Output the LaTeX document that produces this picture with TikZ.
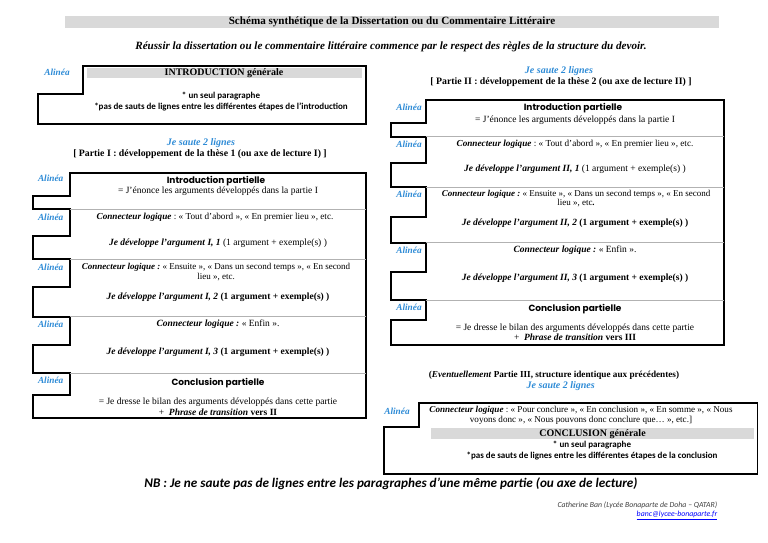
\documentclass[tikz,border=0pt]{standalone}
\usepackage{fontspec}
\setmainfont{Liberation Serif}
\newfontfamily\calfont{Carlito}
\newfontfamily\comicfont{Poppins}
\definecolor{ablue}{HTML}{2E8BD6}
\definecolor{bargray}{HTML}{D9D9D9}
\frenchspacing
\tikzset{
  txt/.style={inner sep=0pt, align=center, font=\fontsize{9.5}{10.5}\selectfont},
  txtsm/.style={inner sep=0pt, align=center, font=\fontsize{9}{9.6}\selectfont},
  alinea/.style={inner sep=0pt, text=ablue, font=\fontsize{9.3}{10}\selectfont\bfseries\itshape},
  saute/.style={inner sep=0pt, text=ablue, font=\fontsize{10}{11}\selectfont\bfseries\itshape},
  comic/.style={inner sep=0pt, font=\fontsize{9}{11}\selectfont\comicfont\bfseries},
  calib/.style={inner sep=0pt, align=center, font=\fontsize{9}{11}\selectfont\calfont\bfseries},
  boxline/.style={line width=1.8pt, line join=miter},
  divline/.style={draw=gray!60, line width=0.6pt},
}
\newcommand{\cl}{\textbf{\textit{Connecteur logique}}}
\begin{document}
\begin{tikzpicture}[x=1pt,y=-1pt]
\useasboundingbox (0,0) rectangle (768,543);
% title
\fill[bargray] (65,15.7) rectangle (718.5,27.7);
\node[txt, font=\fontsize{11.1}{12}\selectfont\bfseries] (title) at (392,21.7) {Schéma synthétique de la Dissertation ou du Commentaire Littéraire};
\node[txt, font=\fontsize{11.1}{12}\selectfont\bfseries\itshape] (sub) at (391,47.3) {Réussir la dissertation ou le commentaire littéraire commence par le respect des règles de la structure du devoir.};

% introduction generale
\draw[boxline] (82.7,65.7) -- (365.7,65.7) -- (365.7,124) -- (38.3,124) -- (38.3,94.3) -- (82.7,94.3) -- cycle;
\fill[bargray] (87,67.7) rectangle (362,77.7);
\node[alinea] (a0) at (57,72) {Alinéa};
\node[txt, font=\fontsize{10}{11}\selectfont\bfseries] (intro) at (224,73) {INTRODUCTION générale};
\node[calib] (introtxt) at (221,101.2) {* un seul paragraphe\\*pas de sauts de lignes entre les différentes étapes de l’introduction};

% left heading
\node[saute] (s1) at (201,143) {Je saute 2 lignes};
\node[txt, font=\fontsize{9.8}{11}\selectfont\bfseries] (p1) at (200,154) {[ Partie I : développement de la thèse 1 (ou axe de lecture I) ]};

% left box
\draw[boxline] (70,172.7) -- (365.7,172.7) -- (365.7,418.3) -- (33.3,418.3) -- (33.3,395) -- (70,395) -- (70,373.3)
  -- (33.3,373.3) -- (33.3,345) -- (70,345) -- (70,316.7)
  -- (33.3,316.7) -- (33.3,287) -- (70,287) -- (70,259.3)
  -- (33.3,259.3) -- (33.3,236) -- (70,236) -- (70,209.3)
  -- (33.3,209.3) -- (33.3,196) -- (70,196) -- cycle;
\foreach \yy in {209.3,259.3,316.7,373.3} \draw[divline] (70,\yy) -- (365.7,\yy);
\node[alinea] (la1) at (50.7,178) {Alinéa};
\node[alinea] (la2) at (50.7,217) {Alinéa};
\node[alinea] (la3) at (50.7,267.3) {Alinéa};
\node[alinea] (la4) at (50.7,324) {Alinéa};
\node[alinea] (la5) at (50.7,380.7) {Alinéa};
\node[comic] (lip) at (216,181) {Introduction partielle};
\node[txt] (lip2) at (218,191.5) {= J’énonce les arguments développés dans la partie I};
\node[txt, font=\fontsize{9.2}{10}\selectfont] (lc1) at (215,217.3) {\cl{} : « Tout d’abord », « En premier lieu », etc.};
\node[txt] (lg1) at (218,243.3) {\textbf{\textit{Je développe l’argument I, 1}} (1 argument + exemple(s) )};
\node[txtsm] (lc2) at (216,272) {\textbf{\textit{Connecteur logique :}} « Ensuite », « Dans un second temps », « En second\\lieu », etc.};
\node[txt] (lg2) at (218,297.7) {\textbf{\textit{Je développe l’argument I, 2}} \textbf{(1 argument + exemple(s) )}};
\node[txt] (lc3) at (218,324) {\textbf{\textit{Connecteur logique :}} « Enfin ».};
\node[txt] (lg3) at (218,352.7) {\textbf{\textit{Je développe l’argument I, 3}} \textbf{(1 argument + exemple(s) )}};
\node[comic] (lcp) at (218,382.7) {Conclusion partielle};
\node[txt, font=\fontsize{9.5}{11}\selectfont] (lcp2) at (218,407.2) {= Je dresse le bilan des arguments développés dans cette partie\\+\ \ \textbf{\textit{Phrase de transition}} \textbf{vers II}};

% right heading
\node[saute] (s2) at (559,70.7) {Je saute 2 lignes};
\node[txt, font=\fontsize{9.8}{11}\selectfont\bfseries] (p2) at (561,81.7) {[ Partie II : développement de la thèse 2 (ou axe de lecture II) ]};

% right box
\draw[boxline] (426.3,100) -- (724,100) -- (724,345) -- (391.3,345) -- (391.3,320) -- (426.3,320) -- (426.3,300)
  -- (391.3,300) -- (391.3,271.7) -- (426.3,271.7) -- (426.3,242.7)
  -- (391.3,242.7) -- (391.3,216.7) -- (426.3,216.7) -- (426.3,187.3)
  -- (391.3,187.3) -- (391.3,163.3) -- (426.3,163.3) -- (426.3,136.7)
  -- (391.3,136.7) -- (391.3,123.3) -- (426.3,123.3) -- cycle;
\foreach \yy in {136.7,187.3,242.7,300} \draw[divline] (426.3,\yy) -- (724,\yy);
\node[alinea] (ra1) at (409,107.3) {Alinéa};
\node[alinea] (ra2) at (409,144) {Alinéa};
\node[alinea] (ra3) at (409,194) {Alinéa};
\node[alinea] (ra4) at (409,250) {Alinéa};
\node[alinea] (ra5) at (409,307.3) {Alinéa};
\node[comic] (rip) at (573,108.5) {Introduction partielle};
\node[txt] (rip2) at (575,120.5) {= J’énonce les arguments développés dans la partie I};
\node[txt, font=\fontsize{9.2}{10}\selectfont] (rc1) at (575,144) {\cl{} : « Tout d’abord », « En premier lieu », etc.};
\node[txt] (rg1) at (575,169) {\textbf{\textit{Je développe l’argument II, 1}} (1 argument + exemple(s) )};
\node[txtsm] (rc2) at (576,198.7) {\textbf{\textit{Connecteur logique :}} « Ensuite », « Dans un second temps », « En second\\lieu », etc\textbf{.}};
\node[txt] (rg2) at (575,223.3) {\textbf{\textit{Je développe l’argument II, 2}} \textbf{(1 argument + exemple(s) )}};
\node[txt] (rc3) at (575,250) {\textbf{\textit{Connecteur logique :}} « Enfin ».};
\node[txt] (rg3) at (575,278.3) {\textbf{\textit{Je développe l’argument II, 3}} \textbf{(1 argument + exemple(s) )}};
\node[comic] (rcp) at (575,309) {Conclusion partielle};
\node[txt, font=\fontsize{9.5}{9.5}\selectfont] (rcp2) at (575,332.2) {= Je dresse le bilan des arguments développés dans cette partie\\+\ \ \textbf{\textit{Phrase de transition}} \textbf{vers III}};

% partie III
\node[txt, font=\fontsize{9.2}{11}\selectfont\bfseries] (ev) at (554,375) {(\textit{Eventuellement} Partie III, structure identique aux précédentes)};
\node[saute] (s3) at (560.7,385.7) {Je saute 2 lignes};

% conclusion generale
\draw[boxline] (419,403.3) -- (757.5,403.3) -- (757.5,474.3) -- (384,474.3) -- (384,426.7) -- (419,426.7) -- cycle;
\fill[bargray] (431,428.3) rectangle (754,439.3);
\node[alinea] (ca) at (397,411) {Alinéa};
\node[txt, font=\fontsize{9.1}{9.5}\selectfont] (cc) at (581,415.5) {\cl{} : « Pour conclure », « En conclusion », « En somme », « Nous\\voyons donc », « Nous pouvons donc conclure que… », etc.]};
\node[txt, font=\fontsize{10}{11}\selectfont\bfseries] (concl) at (592.5,434) {CONCLUSION générale};
\node[calib] (concltxt) at (592,450.5) {* un seul paragraphe\\*pas de sauts de lignes entre les différentes étapes de la conclusion};

% NB
\node[inner sep=0pt, font=\fontsize{13.2}{14}\selectfont\calfont\bfseries\itshape] (nb) at (391,483.3) {NB : Je ne saute pas de lignes entre les paragraphes d’une même partie (ou axe de lecture)};
\node[inner sep=0pt, anchor=east, text=black!75, font=\fontsize{7.8}{8}\selectfont\calfont\itshape] (auth) at (717.5,505.7) {Catherine Ban (Lycée Bonaparte de Doha – QATAR)};
\node[inner sep=0pt, anchor=east, text=blue, font=\fontsize{7.8}{8}\selectfont\calfont\itshape] (mail) at (717.5,515.5) {\underline{banc@lycee-bonaparte.fr}};
\end{tikzpicture}
\end{document}
